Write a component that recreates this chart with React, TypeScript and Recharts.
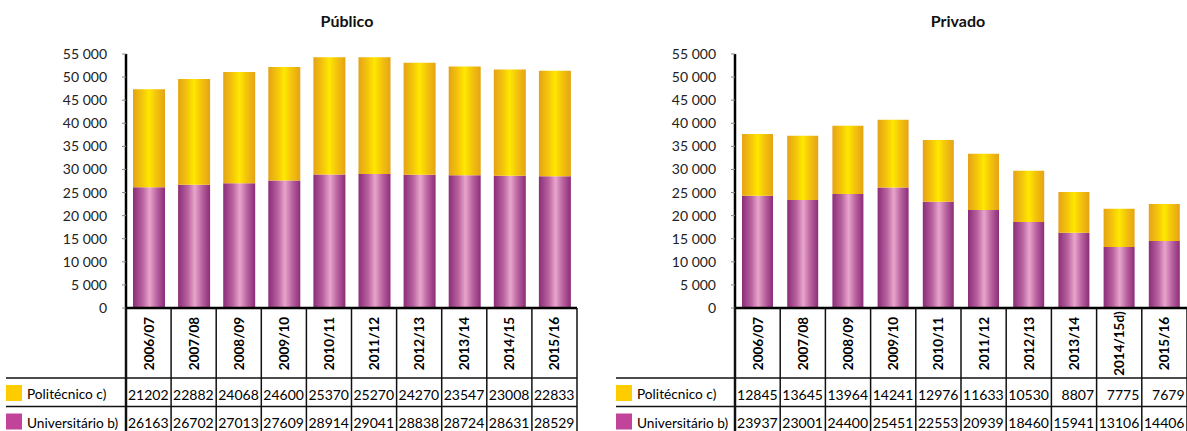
import React from 'react';
import { BarChart, Bar, XAxis, YAxis } from 'recharts';

const categoriesPub = ['2006/07', '2007/08', '2008/09', '2009/10', '2010/11', '2011/12', '2012/13', '2013/14', '2014/15', '2015/16'];
const categoriesPriv = ['2006/07', '2007/08', '2008/09', '2009/10', '2010/11', '2011/12', '2012/13', '2013/14', '2014/15d)', '2015/16'];

const pubPoli = [21202, 22882, 24068, 24600, 25370, 25270, 24270, 23547, 23008, 22833];
const pubUniv = [26163, 26702, 27013, 27609, 28914, 29041, 28838, 28724, 28631, 28529];

const privPoliTable = [12845, 13645, 13964, 14241, 12976, 11633, 10530, 8807, 7775, 7679];
const privUnivTable = [23937, 23001, 24400, 25451, 22553, 20939, 18460, 15941, 13106, 14406];
// bar heights as drawn in the picture
const privPoliBar = [13400, 13900, 14750, 14650, 13400, 12200, 11100, 8800, 8300, 8000];
const privUnivBar = [24300, 23400, 24700, 26100, 23000, 21200, 18600, 16300, 13200, 14500];

const yTicks = [0, 5000, 10000, 15000, 20000, 25000, 30000, 35000, 40000, 45000, 50000, 55000];
const seriesNames = ['Politécnico c)', 'Universitário b)'];

const FONT = 'Lato, "Noto Sans", sans-serif';
const H = 431;
const PLOT_TOP = 54;
const PLOT_BOTTOM = 308;
const ROW1_LINE = 378;
const ROW2_LINE = 406.5;

const fmt = (v: number) => (v === 0 ? '0' : `${v / 1000} 000`);

type PanelProps = {
  id: string;
  title: string;
  cats: string[];
  univBar: number[];
  poliBar: number[];
  univTable: number[];
  poliTable: number[];
  pageLeft: number;
  width: number;
  yAxisWidth: number;
  marginRight: number;
  tableLeft: number;
  barSize: number;
  titleCenter: number;
};

function Panel(p: PanelProps) {
  const data = p.cats.map((c, i) => ({
    cat: c,
    univ: p.univBar[i],
    poli: p.poliBar[i],
    univT: p.univTable[i],
    poliT: p.poliTable[i],
  }));
  const plotLeft = p.yAxisWidth;
  const plotRight = p.width - p.marginRight;
  const bw = (plotRight - plotLeft) / p.cats.length;

  const renderTick = (props: any) => {
    const { x, index } = props;
    const d = data[index];
    const l = x - bw / 2;
    const r = x + bw / 2;
    const lineCol = '#111';
    return (
      <g>
        {index === 0 && (
          <g>
            <line x1={p.tableLeft} x2={plotRight} y1={ROW1_LINE} y2={ROW1_LINE} stroke={lineCol} strokeWidth={1.3} />
            <line x1={p.tableLeft} x2={plotRight} y1={ROW2_LINE} y2={ROW2_LINE} stroke={lineCol} strokeWidth={1.3} />
            <rect x={p.tableLeft} y={385} width={16} height={16} fill="#FFCC00" />
            <rect x={p.tableLeft} y={413.5} width={16} height={16} fill="#C2449A" />
            <text x={p.tableLeft + 21} y={399} fontSize={13.7} fontFamily={FONT} fill="#000">{seriesNames[0]}</text>
            <text x={p.tableLeft + 21} y={427.5} fontSize={13.7} fontFamily={FONT} fill="#000">{seriesNames[1]}</text>
          </g>
        )}
        <line x1={l} x2={l} y1={PLOT_BOTTOM} y2={H} stroke={lineCol} strokeWidth={index === 0 ? 2.5 : 1.5} />
        {index === data.length - 1 && (
          <line x1={r} x2={r} y1={PLOT_BOTTOM} y2={H} stroke={lineCol} strokeWidth={1.5} />
        )}
        <text
          x={x}
          y={343.5}
          transform={`rotate(-90, ${x}, 343.5)`}
          textAnchor="middle"
          dominantBaseline="central"
          fontSize={13.5}
          fontWeight="bold"
          fontFamily={FONT}
          fill="#000"
        >
          {d.cat}
        </text>
        <text x={r - 2.5} y={399.5} textAnchor="end" fontSize={14} fontFamily={FONT} fill="#000">{d.poliT}</text>
        <text x={r - 2.5} y={427.5} textAnchor="end" fontSize={14} fontFamily={FONT} fill="#000">{d.univT}</text>
      </g>
    );
  };

  return (
    <div style={{ position: 'absolute', left: p.pageLeft, top: 0, width: p.width, height: H }}>
      <div
        style={{
          position: 'absolute',
          left: p.titleCenter - p.pageLeft - 100,
          width: 200,
          top: 10,
          textAlign: 'center',
          fontFamily: FONT,
          fontWeight: 'bold',
          fontSize: 16,
          lineHeight: '22px',
          color: '#111',
        }}
      >
        {p.title}
      </div>
      <BarChart
        width={p.width}
        height={H}
        data={data}
        margin={{ top: PLOT_TOP, right: p.marginRight, bottom: 0, left: 0 }}
        barSize={p.barSize}
      >
        <defs>
          <linearGradient id={`${p.id}-yel`} x1="0" y1="0" x2="1" y2="0">
            <stop offset="0%" stopColor="#E4A316" />
            <stop offset="30%" stopColor="#F5C70A" />
            <stop offset="50%" stopColor="#FFE800" />
            <stop offset="70%" stopColor="#F5C70A" />
            <stop offset="100%" stopColor="#E4A316" />
          </linearGradient>
          <linearGradient id={`${p.id}-pur`} x1="0" y1="0" x2="1" y2="0">
            <stop offset="0%" stopColor="#8C2C79" />
            <stop offset="30%" stopColor="#B8629F" />
            <stop offset="52%" stopColor="#E8A5CB" />
            <stop offset="75%" stopColor="#B8629F" />
            <stop offset="100%" stopColor="#8C2C79" />
          </linearGradient>
        </defs>
        <XAxis
          dataKey="cat"
          height={H - PLOT_BOTTOM}
          interval={0}
          axisLine={{ stroke: '#000', strokeWidth: 2.5 }}
          tickLine={false}
          tick={renderTick}
        />
        <YAxis
          width={p.yAxisWidth}
          domain={[0, 55000]}
          ticks={yTicks}
          tickFormatter={fmt}
          axisLine={{ stroke: '#000', strokeWidth: 2.5 }}
          tickLine={{ stroke: '#888' }}
          tickSize={4}
          tickMargin={15}
          tick={{ fontSize: 14, fontFamily: FONT, fill: '#222' }}
          allowDataOverflow
        />
        <Bar dataKey="univ" stackId="a" fill={`url(#${p.id}-pur)`} isAnimationActive={false} />
        <Bar dataKey="poli" stackId="a" fill={`url(#${p.id}-yel)`} isAnimationActive={false} />
      </BarChart>
    </div>
  );
}

export default function App() {
  return (
    <div style={{ position: 'absolute', left: 0, top: 0, width: 1187, height: H, background: '#fff', overflow: 'hidden' }}>
      <Panel
        id="pub"
        title="Público"
        cats={categoriesPub}
        univBar={pubUniv}
        poliBar={pubPoli}
        univTable={pubUniv}
        poliTable={pubPoli}
        pageLeft={0}
        width={590}
        yAxisWidth={126}
        marginRight={13}
        tableLeft={6}
        barSize={32}
        titleCenter={347}
      />
      <Panel
        id="priv"
        title="Privado"
        cats={categoriesPriv}
        univBar={privUnivBar}
        poliBar={privPoliBar}
        univTable={privUnivTable}
        poliTable={privPoliTable}
        pageLeft={600}
        width={587}
        yAxisWidth={135}
        marginRight={0}
        tableLeft={16}
        barSize={31}
        titleCenter={958}
      />
    </div>
  );
}
